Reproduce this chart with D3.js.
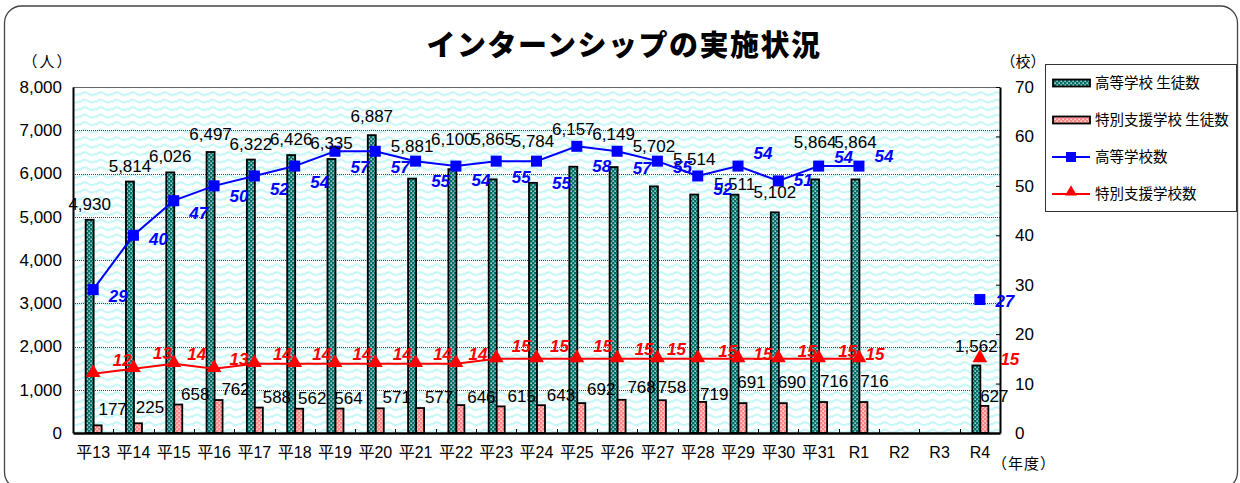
<!DOCTYPE html>
<html>
<head>
<meta charset="utf-8">
<script src="https://cdn.jsdelivr.net/npm/d3@7/dist/d3.min.js"></script>
<style>
  body { margin: 0; background: #fff; }
  svg { display: block; }
  text { font-family: "Liberation Sans", "Noto Sans CJK JP", sans-serif; }
  .jp { font-family: "Noto Sans CJK JP", sans-serif; }
</style>
</head>
<body>
<div id="chart"></div>
<script>
// data
var years = ['平13','平14','平15','平16','平17','平18','平19','平20','平21','平22','平23','平24','平25','平26','平27','平28','平29','平30','平31','R1','R2','R3','R4'];
var hsStudents = [4930,5814,6026,6497,6322,6426,6335,6887,5881,6100,5865,5784,6157,6149,5702,5514,5511,5102,5864,5864,null,null,1562];
var spStudents = [177,225,658,762,588,562,564,571,577,646,615,643,692,768,758,719,691,690,716,716,null,null,627];
var hsSchools = [29,40,47,50,52,54,57,57,55,54,55,55,58,57,55,52,54,51,54,54,null,null,27];
var spSchools = [12,13,14,13,14,14,14,14,14,14,15,15,15,15,15,15,15,15,15,15,null,null,15];
var leftTicks = [0,1000,2000,3000,4000,5000,6000,7000,8000];
var rightTicks = [0,10,20,30,40,50,60,70];

// label nudges (layout only)
var hsLabelLift = [10,10,10,12,10,10,10,13,27,24,34,36,32,27,34,30,5,14,31,31,0,0,13];
var spLabelLift = [10,10,5,5,5,5,5,5,5,2,4,4,8,7,7,2,15,15,15,15,0,0,4];
var spLabelDx = [15,12,17,17,18,13,9,17,19,21,21,20,20,20,10,12,9,9,11,11,0,0,10];
var blueDy = [6,4,12,10,13,16,16,16,20,14,16,22,20,17,6,13,-13,-1,-9,-10,0,0,1];
var redDx = [29,29,23,25,28,27,27,27,27,22,25,23,26,27,19,30,25,29,29,16,0,0,30];
var redDy = [-14,-16,-10,-10,-10,-10,-10,-10,-10,-10,-13,-13,-13,-10,-10,-8,-5,-8,-8,-5,0,0,0];

function draw() {
  var width = 1240, height = 483;
  var pL = 73, pR = 1000, pT = 87, pB = 433;

  var svg = d3.select('#chart').append('svg')
    .attr('width', width).attr('height', height);

  var defs = svg.append('defs');

  // wavy cyan background
  var wave = defs.append('pattern').attr('id','wave')
    .attr('patternUnits','userSpaceOnUse').attr('width',16).attr('height',7.5);
  wave.append('rect').attr('width',16).attr('height',7.5).attr('fill','#fff');
  wave.append('path').attr('d','M0,5 Q4,0.5 8,3.5 T16,3.5')
    .attr('fill','none').attr('stroke','#c2f6f6').attr('stroke-width',2);

  // dotted bar fills
  function dotPattern(id, base, dot) {
    var p = defs.append('pattern').attr('id',id)
      .attr('patternUnits','userSpaceOnUse').attr('width',4).attr('height',4);
    p.append('rect').attr('width',4).attr('height',4).attr('fill',base);
    p.append('rect').attr('x',0.5).attr('y',0.5).attr('width',1.3).attr('height',1.3).attr('fill',dot);
    p.append('rect').attr('x',2.5).attr('y',2.5).attr('width',1.3).attr('height',1.3).attr('fill',dot);
  }
  dotPattern('teal', '#006e69', '#ffffff');
  dotPattern('pink', '#ff8585', '#ffffff');

  // outer rounded frame
  svg.append('rect').attr('x',4.5).attr('y',6).attr('width',1233).attr('height',483)
    .attr('rx',17).attr('fill','none').attr('stroke','#444').attr('stroke-width',1.3);

  var x = d3.scaleBand().domain(years).range([pL, pR]).paddingInner(0).paddingOuter(0);
  var yL = d3.scaleLinear().domain([0,8000]).range([pB, pT]);
  var yR = d3.scaleLinear().domain([0,70]).range([pB, pT]);
  function cx(d) { return x(d) + x.bandwidth()/2; }

  // plot background
  svg.append('rect').attr('x',pL).attr('y',pT).attr('width',pR-pL).attr('height',pB-pT)
    .attr('fill','url(#wave)');

  // grid lines
  svg.append('g').selectAll('line').data(leftTicks.filter(function(t){ return t>0 && t<8000; }))
    .enter().append('line')
    .attr('x1',pL).attr('x2',pR)
    .attr('y1',function(d){ return Math.round(yL(d))+0.5; }).attr('y2',function(d){ return Math.round(yL(d))+0.5; })
    .attr('stroke','#444').attr('stroke-width',1).attr('stroke-dasharray','1,1');
  svg.append('line').attr('x1',pL).attr('x2',pR).attr('y1',pT+0.5).attr('y2',pT+0.5)
    .attr('stroke','#666').attr('stroke-width',1);

  // bars
  var bw = 8;
  var idx = d3.range(years.length);
  var bars = svg.append('g');
  bars.selectAll('rect.hs').data(idx.filter(function(i){ return hsStudents[i] != null; })).enter()
    .append('rect').attr('class','hs')
    .attr('x',function(i){ return cx(years[i]) - 7.5; })
    .attr('y',function(i){ return yL(hsStudents[i]); })
    .attr('width',bw)
    .attr('height',function(i){ return pB - yL(hsStudents[i]); })
    .attr('fill','url(#teal)').attr('stroke','#000').attr('stroke-width',1.8);
  bars.selectAll('rect.sp').data(idx.filter(function(i){ return spStudents[i] != null; })).enter()
    .append('rect').attr('class','sp')
    .attr('x',function(i){ return cx(years[i]) + 0.5; })
    .attr('y',function(i){ return yL(spStudents[i]); })
    .attr('width',bw)
    .attr('height',function(i){ return pB - yL(spStudents[i]); })
    .attr('fill','url(#pink)').attr('stroke','#000').attr('stroke-width',1.8);

  // axes
  var axL = svg.append('g').attr('transform','translate(' + pL + ',0)')
    .call(d3.axisLeft(yL).tickValues(leftTicks).tickSize(0).tickPadding(11).tickFormat(d3.format(',')));
  axL.select('.domain').attr('stroke','#000').attr('stroke-width',2);
  axL.selectAll('text').style('font-size','17px').style('fill','#000');

  var axR = svg.append('g').attr('transform','translate(' + pR + ',0)')
    .call(d3.axisRight(yR).tickValues(rightTicks).tickSizeInner(-4).tickSizeOuter(0).tickPadding(15));
  axR.select('.domain').attr('stroke','#000').attr('stroke-width',2);
  axR.selectAll('line').attr('stroke','#000');
  axR.selectAll('text').style('font-size','17px').style('fill','#000');

  var axB = svg.append('g').attr('transform','translate(0,' + pB + ')')
    .call(d3.axisBottom(x).tickSize(0).tickPadding(14));
  axB.select('.domain').attr('stroke','#000').attr('stroke-width',2.5);
  axB.selectAll('text').style('font-size','16px').style('fill','#000');
  svg.append('g').selectAll('line').data(years.slice(1)).enter().append('line')
    .attr('x1',function(d){ return Math.round(x(d))+0.5; }).attr('x2',function(d){ return Math.round(x(d))+0.5; })
    .attr('y1',pB-4).attr('y2',pB).attr('stroke','#000').attr('stroke-width',1);

  // lines
  var blueLine = d3.line().defined(function(i){ return hsSchools[i] != null; })
    .x(function(i){ return cx(years[i]); }).y(function(i){ return yR(hsSchools[i]); });
  var redLine = d3.line().defined(function(i){ return spSchools[i] != null; })
    .x(function(i){ return cx(years[i]); }).y(function(i){ return yR(spSchools[i]); });

  svg.append('path').datum(idx).attr('d',blueLine)
    .attr('fill','none').attr('stroke','#0000ff').attr('stroke-width',2);
  svg.append('path').datum(idx).attr('d',redLine)
    .attr('fill','none').attr('stroke','#ff0000').attr('stroke-width',2);

  var hsIdx = idx.filter(function(i){ return hsSchools[i] != null; });
  var spIdx = idx.filter(function(i){ return spSchools[i] != null; });

  svg.append('g').selectAll('rect').data(hsIdx).enter().append('rect')
    .attr('x',function(i){ return cx(years[i]) - 5.5; })
    .attr('y',function(i){ return yR(hsSchools[i]) - 5.5; })
    .attr('width',11).attr('height',11).attr('fill','#0000ff');

  var tri = d3.symbol().type(d3.symbolTriangle).size(95);
  svg.append('g').selectAll('path').data(spIdx).enter().append('path')
    .attr('d',tri)
    .attr('transform',function(i){ return 'translate(' + cx(years[i]) + ',' + (yR(spSchools[i]) - 1) + ')'; })
    .attr('fill','#ff0000');

  // data labels
  var fmt = d3.format(',');
  var labels = svg.append('g');
  labels.selectAll('text.hsl').data(idx.filter(function(i){ return hsStudents[i] != null; })).enter()
    .append('text')
    .attr('x',function(i){ return cx(years[i]) - 3.5; })
    .attr('y',function(i){ return yL(hsStudents[i]) - hsLabelLift[i]; })
    .attr('text-anchor','middle').style('font-size','17px').style('fill','#000')
    .text(function(i){ return fmt(hsStudents[i]); });
  labels.selectAll('text.spl').data(idx.filter(function(i){ return spStudents[i] != null; })).enter()
    .append('text')
    .attr('x',function(i){ return cx(years[i]) + 4.5 + spLabelDx[i]; })
    .attr('y',function(i){ return yL(spStudents[i]) - spLabelLift[i]; })
    .attr('text-anchor','middle').style('font-size','17px').style('fill','#000')
    .text(function(i){ return fmt(spStudents[i]); });
  labels.selectAll('text.bl').data(hsIdx).enter()
    .append('text')
    .attr('x',function(i){ return cx(years[i]) + 25; })
    .attr('y',function(i){ return yR(hsSchools[i]) + blueDy[i] + 6; })
    .attr('text-anchor','middle').style('font-size','17px')
    .style('font-weight','bold').style('font-style','italic')
    .style('fill','#0000ff')
    .text(function(i){ return hsSchools[i]; });
  labels.selectAll('text.rl').data(spIdx).enter()
    .append('text')
    .attr('x',function(i){ return cx(years[i]) + redDx[i]; })
    .attr('y',function(i){ return yR(spSchools[i]) + redDy[i] + 6; })
    .attr('text-anchor','middle').style('font-size','17px')
    .style('font-weight','bold').style('font-style','italic')
    .style('fill','#ff0000')
    .text(function(i){ return spSchools[i]; });

  // title and unit labels
  svg.append('text').attr('class','jp').attr('x',624).attr('y',56)
    .attr('text-anchor','middle').style('font-size','29px').style('font-weight','900')
    .style('letter-spacing','1.5px').style('fill','#000')
    .text('インターンシップの実施状況');
  svg.append('text').attr('class','jp').attr('x',48).attr('y',67)
    .attr('text-anchor','middle').style('font-size','15px').style('letter-spacing','2px').style('fill','#000').text('（人）');
  svg.append('text').attr('class','jp').attr('x',1023).attr('y',67)
    .attr('text-anchor','middle').style('font-size','15px').style('fill','#000').text('（校）');
  svg.append('text').attr('class','jp').attr('x',1024).attr('y',469)
    .attr('text-anchor','middle').style('font-size','15px').style('letter-spacing','1px').style('fill','#000').text('（年度）');

  // legend
  var lg = svg.append('g');
  lg.append('rect').attr('x',1045.5).attr('y',64.5).attr('width',191).attr('height',147)
    .attr('fill','#fff').attr('stroke','#333').attr('stroke-width',1);
  var legendItems = [
    { name: '高等学校 生徒数', kind: 'bar', fill: 'url(#teal)' },
    { name: '特別支援学校 生徒数', kind: 'bar', fill: 'url(#pink)' },
    { name: '高等学校数', kind: 'sq', color: '#0000ff' },
    { name: '特別支援学校数', kind: 'tri', color: '#ff0000' }
  ];
  legendItems.forEach(function(it, k) {
    var yy = 83 + k * 37;
    if (it.kind === 'bar') {
      lg.append('rect').attr('x',1053).attr('y',yy-3.5).attr('width',37).attr('height',7)
        .attr('fill',it.fill).attr('stroke','#000').attr('stroke-width',1.8);
    } else {
      lg.append('line').attr('x1',1052).attr('x2',1090).attr('y1',yy).attr('y2',yy)
        .attr('stroke',it.color).attr('stroke-width',2);
      if (it.kind === 'sq') {
        lg.append('rect').attr('x',1066).attr('y',yy-5).attr('width',10).attr('height',10).attr('fill',it.color);
      } else {
        lg.append('path').attr('d',d3.symbol().type(d3.symbolTriangle).size(60))
          .attr('transform','translate(1071,' + (yy-2) + ')').attr('fill',it.color);
      }
    }
    lg.append('text').attr('class','jp').attr('x',1095).attr('y',yy+5)
      .style('font-size','14.5px').style('fill','#000').text(it.name);
  });
}

draw();
</script>
</body>
</html>
